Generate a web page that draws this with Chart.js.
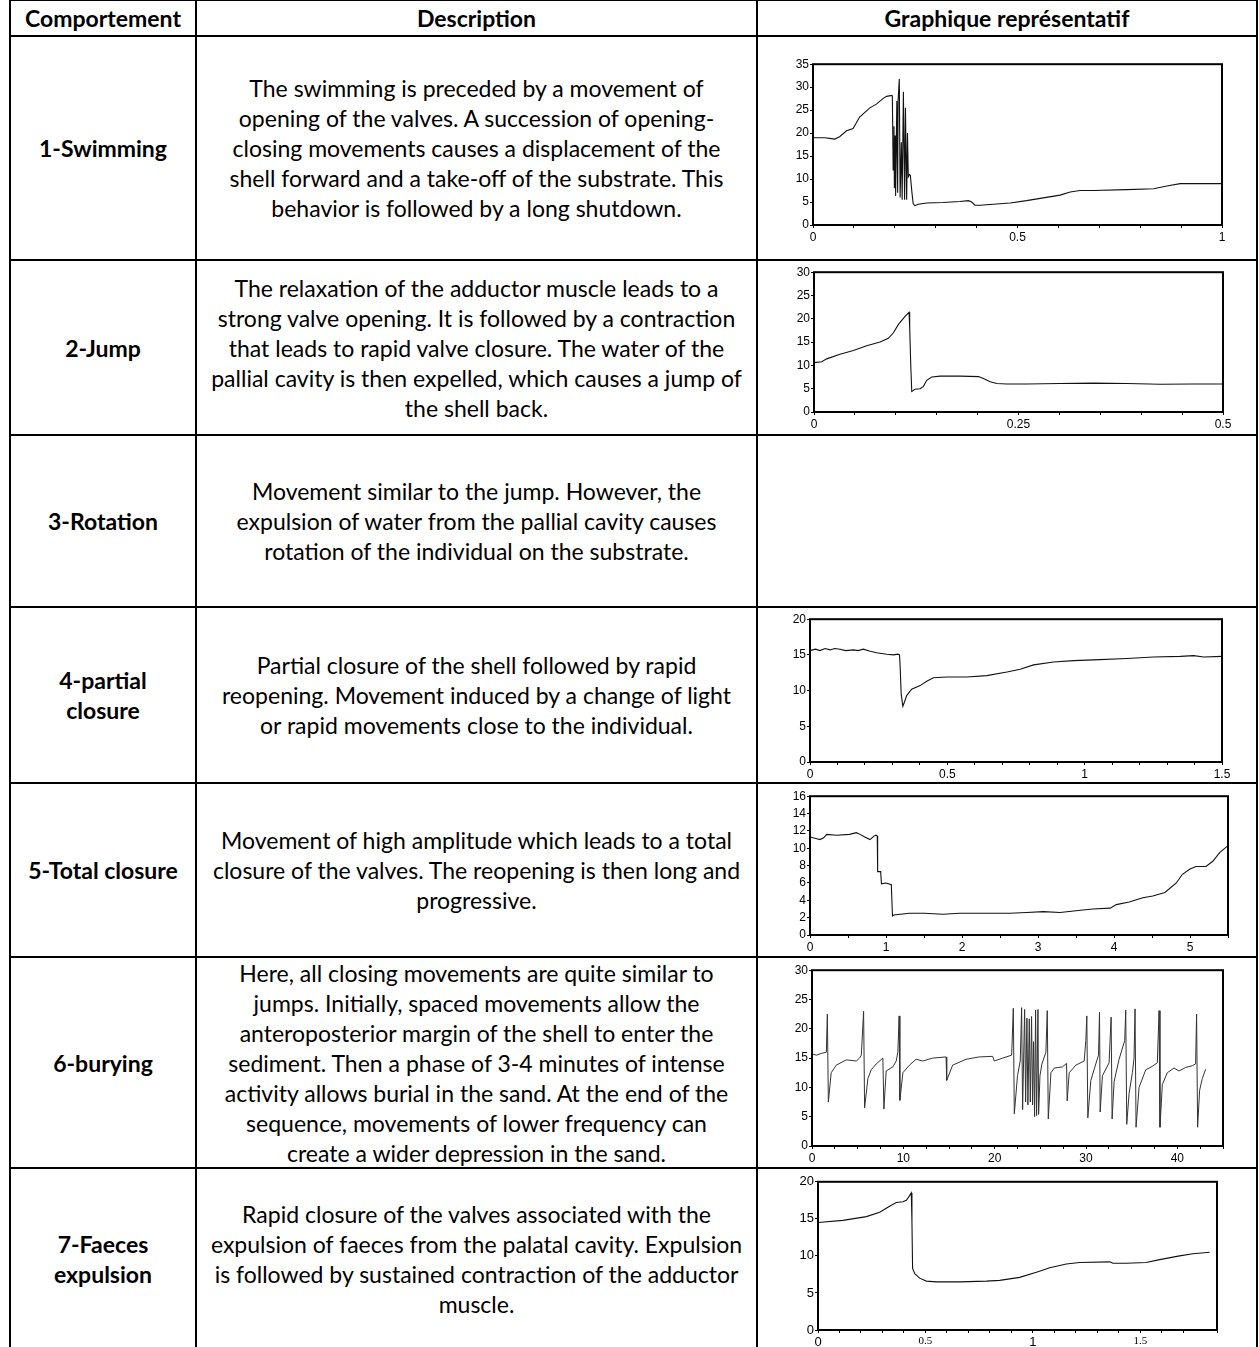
<!DOCTYPE html>
<html>
<head>
<meta charset="utf-8">
<script src="https://cdn.jsdelivr.net/npm/chart.js@4.4.1/dist/chart.umd.min.js"></script>
<style>
  html, body { margin:0; padding:0; background:#fff; }
  body { width:1259px; height:1347px; overflow:hidden; position:relative; font-family: Lato, "Open Sans", sans-serif; color:#000; }
  .ln { position:absolute; background:#000; }
  .cell { position:absolute; display:flex; align-items:center; justify-content:center; text-align:center; white-space:nowrap; line-height:30px; }
  .hd { font-weight:700; }
  .lab { font-weight:700; }
  .box { position:absolute; }
</style>
</head>
<body>
<script>
// ---------------- DATA ----------------
const headers = ["Comportement", "Description", "Graphique représentatif"];
const behaviours = [["1-Swimming"], ["2-Jump"], ["3-Rotation"], ["4-partial", "closure"], ["5-Total closure"], ["6-burying"], ["7-Faeces", "expulsion"]];
const descriptions = [
  ["The swimming is preceded by a movement of", "opening of the valves. A succession of opening-", "closing movements causes a displacement of the", "shell forward and a take-off of the substrate. This", "behavior is followed by a long shutdown."],
  ["The relaxation of the adductor muscle leads to a", "strong valve opening. It is followed by a contraction", "that leads to rapid valve closure. The water of the", "pallial cavity is then expelled, which causes a jump of", "the shell back."],
  ["Movement similar to the jump. However, the", "expulsion of water from the pallial cavity causes", "rotation of the individual on the substrate."],
  ["Partial closure of the shell followed by rapid", "reopening. Movement induced by a change of light", "or rapid movements close to the individual."],
  ["Movement of high amplitude which leads to a total", "closure of the valves. The reopening is then long and", "progressive."],
  ["Here, all closing movements are quite similar to", "jumps. Initially, spaced movements allow the", "anteroposterior margin of the shell to enter the", "sediment. Then a phase of 3-4 minutes of intense", "activity allows burial in the sand. At the end of the", "sequence, movements of lower frequency can", "create a wider depression in the sand."],
  ["Rapid closure of the valves associated with the", "expulsion of faeces from the palatal cavity. Expulsion", "is followed by sustained contraction of the adductor", "muscle."]
];

// 1 - Swimming
const swimX = [0,0.029,0.045,0.053,0.065,0.082,0.098,0.114,0.139,0.155,0.171,0.18,0.193,0.194,0.196,0.198,0.199,0.201,0.202,0.205,0.207,0.208,0.211,0.213,0.216,0.218,0.221,0.224,0.226,0.229,0.231,0.233,0.236,0.238,0.242,0.245,0.249,0.257,0.278,0.318,0.359,0.380,0.388,0.396,0.408,0.441,0.482,0.522,0.563,0.604,0.629,0.653,0.686,0.767,0.833,0.865,0.898,0.931,1.0];
const swimY = [19,19,18.8,18.7,19.2,20.5,21,23.5,25.5,26.3,27.5,28,28.2,28,12,21.5,8,19.5,6.3,27,7,27,31.8,6,18,5.5,29,5.5,25.5,5.5,20,10.5,11,10.8,7,4.6,4.2,4.5,4.8,4.9,5.1,5.3,5.0,4.3,4.3,4.5,4.8,5.3,5.9,6.5,7.2,7.5,7.5,7.7,7.9,8.5,9,9,9];
const swimXTicks = [0, 0.5, 1];
const swimYTicks = [0, 5, 10, 15, 20, 25, 30, 35];

// 2 - Jump
const jumpX = [0,0.0094,0.0155,0.0318,0.0481,0.0644,0.0808,0.0909,0.0971,0.1032,0.1113,0.1162,0.117,0.1183,0.1195,0.1236,0.1297,0.1338,0.1378,0.144,0.1542,0.1786,0.2011,0.2072,0.2153,0.2235,0.2357,0.2602,0.301,0.3418,0.3825,0.4233,0.4641,0.5];
const jumpY = [10.6,10.8,11.4,12.4,13.2,14.2,15,15.8,17,18.8,20.5,21.4,18,10,4.4,4.9,5,5.5,6.8,7.5,7.7,7.7,7.6,7.2,6.5,6.1,6,6,6.1,6.2,6.1,5.95,6,6];
const jumpXTicks = [0, 0.25, 0.5];
const jumpYTicks = [0, 5, 10, 15, 20, 25, 30];

// 4 - Partial closure
const partialX = [0,0.02,0.036,0.055,0.073,0.09,0.109,0.13,0.158,0.175,0.194,0.219,0.243,0.26,0.279,0.304,0.32,0.326,0.328,0.332,0.338,0.344,0.352,0.370,0.401,0.425,0.449,0.498,0.571,0.644,0.717,0.765,0.814,0.887,0.960,1.032,1.154,1.251,1.348,1.397,1.433,1.5];
const partialY = [15.6,15.8,15.6,15.9,15.7,15.9,15.8,15.6,15.7,15.6,15.8,15.5,15.3,15.2,15.1,15.0,15.1,15.0,13.5,9.5,7.8,8.4,9.3,10.2,10.7,11.3,11.8,11.9,11.9,12.1,12.6,13.0,13.6,14.0,14.2,14.3,14.5,14.7,14.8,14.9,14.7,14.8];
const partialXTicks = [0, 0.5, 1, 1.5];
const partialYTicks = [0, 5, 10, 15, 20];

// 5 - Total closure
const totalX = [0,0.09,0.13,0.18,0.22,0.35,0.52,0.61,0.66,0.72,0.79,0.84,0.87,0.885,0.89,0.93,0.94,1.0,1.07,1.085,1.1,1.31,1.5,1.75,1.97,2.2,2.41,2.63,2.85,3.07,3.29,3.5,3.72,3.95,4.03,4.2,4.38,4.51,4.67,4.82,4.9,5.0,5.08,5.21,5.3,5.39,5.5];
const totalY = [11.3,11.1,11.0,11.2,11.6,11.5,11.6,11.8,11.6,11.3,11.0,11.4,11.5,11.4,7.3,7.3,5.9,6.0,5.8,2.2,2.3,2.5,2.5,2.4,2.5,2.5,2.5,2.5,2.6,2.7,2.6,2.8,3.0,3.1,3.5,3.8,4.3,4.5,4.9,6.0,7.0,7.6,7.9,7.9,8.5,9.5,10.3];
const totalXTicks = [0, 1, 2, 3, 4, 5];
const totalYTicks = [0, 2, 4, 6, 8, 10, 12, 14, 16];

// 6 - Burying
const buryX = [0,0.5,1.0,1.57,1.68,1.79,2.1,2.66,3.75,4.85,5.2,5.4,5.65,5.76,6.12,6.48,7.03,7.76,7.87,8.12,8.85,9.22,9.4,9.54,9.62,9.95,10.67,11.4,12.13,13.2,14.68,14.75,15.4,16.87,18.3,19.78,19.96,20.87,21.86,22.04,22.15,22.5,22.8,22.95,23.06,23.28,23.39,23.53,23.64,23.79,23.9,24.04,24.15,24.26,24.37,24.48,24.59,24.74,24.81,24.96,25.17,25.61,25.76,25.87,26.16,26.52,27.43,27.87,27.94,28.16,28.89,29.8,29.98,30.09,30.2,30.53,31.07,31.37,31.48,31.55,31.8,32.53,32.75,32.86,33.08,33.62,34.24,34.35,34.46,34.72,35.08,35.26,35.37,35.48,35.81,36.54,37.27,37.81,38.0,38.1,38.36,38.9,39.64,40.18,40.91,41.64,42.0,42.11,42.22,42.44,42.73,43.1];
const buryY = [15.7,15.5,15.8,16.0,22.5,7.5,12.5,13.8,14.7,14.5,15.0,15.5,23,6.5,11.5,13.0,14.0,15.0,6.3,12.8,13.5,14.5,16,22.2,7.8,12.5,13.8,14.8,14.5,15,15.2,11.2,13.8,14.8,15.2,15.3,14.5,15.0,15.5,23.5,5.5,12,14.5,23.6,6.2,23.3,7.5,21.8,7,21.7,7.5,22.1,7,17.8,5,23.2,5.2,23.3,5.4,12,14,16,23.1,4.6,12.5,13.3,13.5,14.1,7.7,12.5,13.8,14.5,18,22.2,4.8,11.2,14,15.5,22.8,5.8,12,14.2,22.0,4.6,11,14.8,18,23.2,3.7,9,12.5,15,23.4,3.2,10,13,13.6,14.2,23.1,3.2,10.5,12.5,13.3,12.8,13.4,13.7,14,22.5,3.2,9.5,11.5,13.1];
const buryXTicks = [0, 10, 20, 30, 40];
const buryYTicks = [0, 5, 10, 15, 20, 25, 30];

// 7 - Faeces expulsion
const faecesX = [0,0.116,0.225,0.287,0.333,0.364,0.395,0.411,0.423,0.434,0.437,0.44,0.45,0.473,0.504,0.55,0.659,0.783,0.845,0.938,1.016,1.078,1.155,1.217,1.357,1.372,1.434,1.527,1.589,1.682,1.744,1.822];
const faecesY = [14.5,14.8,15.3,15.9,16.7,17.2,17.3,17.5,18.0,18.5,14.5,8.3,7.6,7.0,6.6,6.5,6.5,6.6,6.7,7.1,7.8,8.4,8.9,9.1,9.2,9.0,9.0,9.1,9.5,10.0,10.3,10.5];
const faecesXTicks = [0, 0.5, 1, 1.5];
const faecesYTicks = [0, 5, 10, 15, 20];

// ---------------- LAYOUT ----------------
const ROWS = [0, 36, 260, 435, 607, 783, 957, 1168, 1350];
const COLS = [10, 196, 757, 1257];
const LW = 2;

function addLine(x, y, w, h) {
  const d = document.createElement('div');
  d.className = 'ln';
  d.style.left = x + 'px'; d.style.top = y + 'px'; d.style.width = w + 'px'; d.style.height = h + 'px';
  document.body.appendChild(d);
}
ROWS.forEach(y => addLine(COLS[0] - 1, y - 1, COLS[3] - COLS[0] + 2, LW));
COLS.forEach(x => addLine(x - 1, 0, LW, 1350));

// fit Lato to the measured widths of the original text
const mctx = document.createElement('canvas').getContext('2d');
mctx.font = '400 100px Lato';
const regSize = 100 * 532 / mctx.measureText('pallial cavity is then expelled, which causes a jump of').width;
mctx.font = '700 100px Lato';
const boldSize = 100 * 156 / mctx.measureText('Comportement').width;

function addCell(x0, x1, y0, y1, lines, cls, size) {
  const d = document.createElement('div');
  d.className = 'cell ' + cls;
  d.style.left = (x0 + 1) + 'px'; d.style.width = (x1 - x0 - 2) + 'px';
  d.style.top = (y0 + 1) + 'px'; d.style.height = (y1 - y0 - 2) + 'px';
  d.style.fontSize = size.toFixed(2) + 'px';
  const inner = document.createElement('div');
  lines.forEach((t, i) => {
    if (i) inner.appendChild(document.createElement('br'));
    inner.appendChild(document.createTextNode(t));
  });
  d.appendChild(inner);
  document.body.appendChild(d);
}
headers.forEach((h, i) => addCell(COLS[i], COLS[i + 1], ROWS[0], ROWS[1], [h], 'hd', boldSize));
behaviours.forEach((b, i) => addCell(COLS[0], COLS[1], ROWS[i + 1], ROWS[i + 2], b, 'lab', boldSize));
descriptions.forEach((d, i) => addCell(COLS[1], COLS[2], ROWS[i + 1], ROWS[i + 2], d, 'desc', regSize));

// ---------------- CHARTS ----------------
Chart.defaults.font.family = '"Liberation Sans", Arial, sans-serif';
Chart.defaults.color = '#000';

const framePlugin = {
  id: 'frame',
  afterDraw(chart) {
    const { ctx, chartArea: a } = chart;
    ctx.save();
    ctx.strokeStyle = '#000';
    ctx.lineWidth = 2;
    ctx.strokeRect(a.left, a.top, a.right - a.left, a.bottom - a.top);
    ctx.restore();
  }
};

const YW = 45, XH = 20, PT = 8, PR = 15;
function near(v, list) { return list.find(t => Math.abs(t - v) < 1e-6); }

function makeChart(plot, xs, ys, xMax, xStep, xTicks, yMax, yStep, yTicks, opt) {
  opt = opt || {};
  const [pl, pt, pr, pb] = plot;
  const W = pr - pl + YW + PR, H = pb - pt + PT + XH;
  const box = document.createElement('div');
  box.className = 'box';
  box.style.left = (pl - YW) + 'px'; box.style.top = (pt - PT) + 'px';
  box.style.width = W + 'px'; box.style.height = H + 'px';
  const cv = document.createElement('canvas');
  cv.width = W; cv.height = H;
  cv.style.width = W + 'px'; cv.style.height = H + 'px';
  box.appendChild(cv);
  document.body.appendChild(box);
  const pts = xs.map((x, i) => ({ x: x, y: ys[i] }));
  const tickFont = opt.font || { size: 12 };
  new Chart(cv, {
    type: 'line',
    data: { datasets: [{ data: pts, borderColor: opt.color || '#111', borderWidth: opt.width || 1.1, pointRadius: 0, tension: 0, fill: false }] },
    options: {
      responsive: false, animation: false, devicePixelRatio: 1,
      layout: { padding: { left: 0, top: PT, right: PR, bottom: 0 } },
      plugins: { legend: { display: false }, tooltip: { enabled: false } },
      scales: {
        x: {
          type: 'linear', min: 0, max: xMax,
          afterFit: s => { s.height = XH; },
          border: { display: false },
          grid: { drawOnChartArea: false, drawTicks: true, tickLength: 3, color: '#000', lineWidth: 1 },
          ticks: {
            stepSize: xStep, autoSkip: false, maxRotation: 0, minRotation: 0, padding: 2,
            color: '#000', font: opt.xFont || tickFont,
            callback: v => { const t = near(v, xTicks); return t === undefined ? '' : String(t); }
          }
        },
        y: {
          type: 'linear', min: 0, max: yMax,
          afterFit: s => { s.width = YW; },
          border: { display: false },
          grid: { drawOnChartArea: false, drawTicks: true, tickLength: 3, color: '#000', lineWidth: 1 },
          ticks: {
            stepSize: yStep, autoSkip: false, padding: 1, color: '#000', font: tickFont,
            callback: v => { const t = near(v, yTicks); return t === undefined ? '' : String(t); }
          }
        }
      }
    },
    plugins: [framePlugin]
  });
}

makeChart([813, 64, 1222, 225], swimX, swimY, 1, 0.1, swimXTicks, 35, 5, swimYTicks);
makeChart([814, 272, 1223, 412], jumpX, jumpY, 0.5, 0.05, jumpXTicks, 30, 5, jumpYTicks);
makeChart([810, 619, 1222, 762], partialX, partialY, 1.5, 0.1, partialXTicks, 20, 5, partialYTicks);
makeChart([810, 796, 1228, 935], totalX, totalY, 5.5, 0.5, totalXTicks, 16, 2, totalYTicks);
makeChart([812, 970, 1223, 1146], buryX, buryY, 45, 2.5, buryXTicks, 30, 5, buryYTicks, { color: '#333', width: 1 });
makeChart([818, 1181, 1217, 1330], faecesX, faecesY, 1.856, 0.1, faecesXTicks, 20, 5, faecesYTicks, {
  font: { size: 13 },
  xFont: ctx => (ctx.tick && (Math.abs(ctx.tick.value - 0.5) < 1e-6 || Math.abs(ctx.tick.value - 1.5) < 1e-6))
    ? { family: '"Liberation Serif", serif', size: 11 } : { size: 13 }
});
</script>
</body>
</html>
